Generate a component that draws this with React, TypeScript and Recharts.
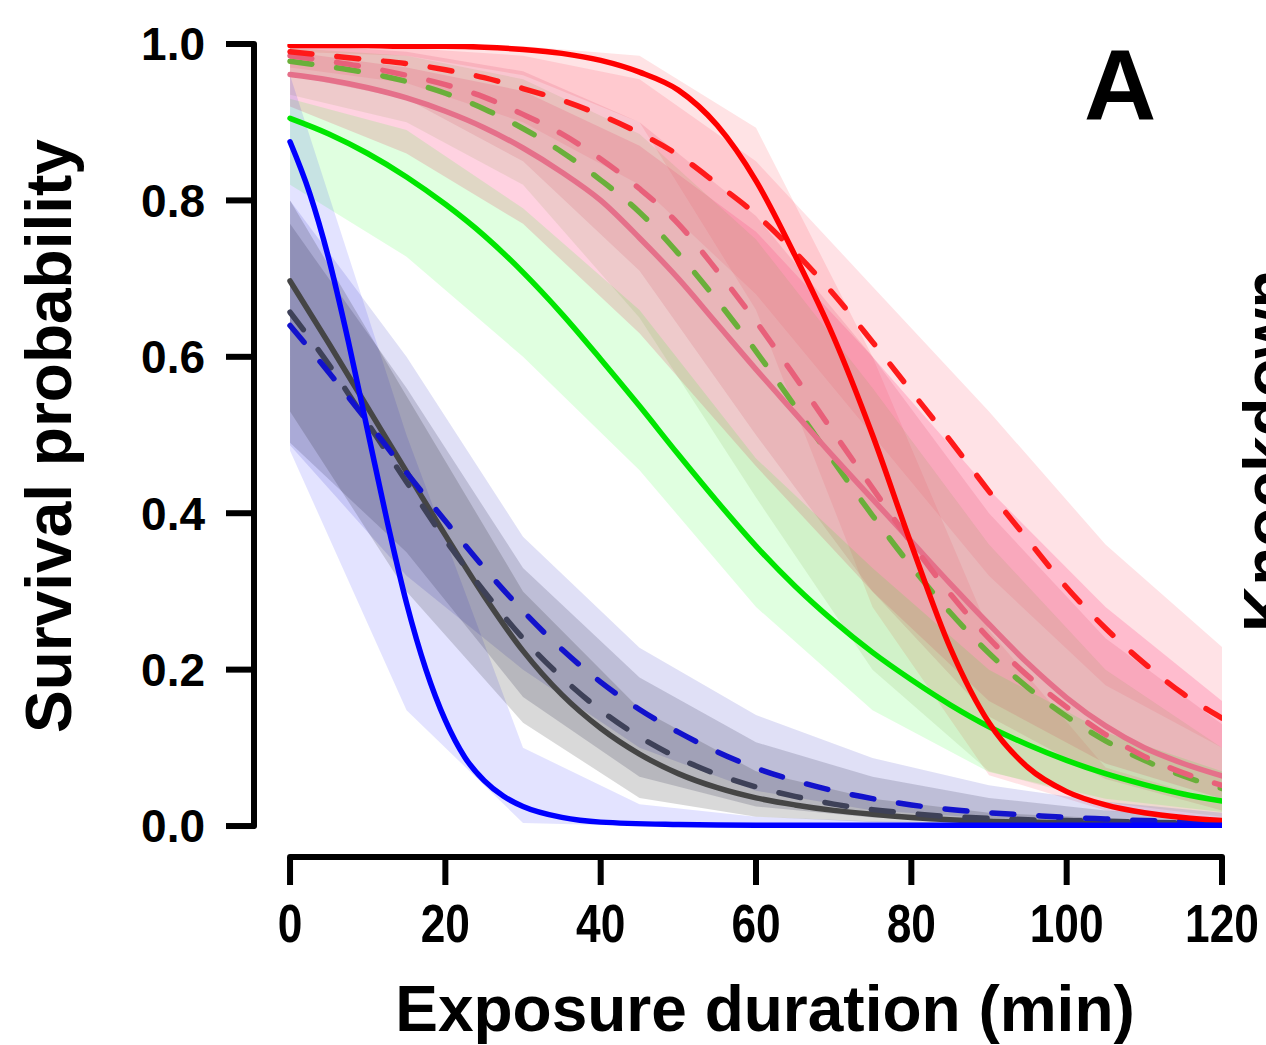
import { Area, ComposedChart, Line, ReferenceLine, XAxis, YAxis } from 'recharts'

// model curves, every 5 min
const minutes = [0, 5, 10, 15, 20, 25, 30, 35, 40, 45, 50, 55, 60, 65, 70, 75, 80, 85, 90, 95, 100, 105, 110, 115, 120]
const redSolid = [0.998, 0.998, 0.998, 0.997, 0.997, 0.996, 0.993, 0.988, 0.979, 0.964, 0.941, 0.896, 0.825, 0.73, 0.625, 0.5, 0.36, 0.228, 0.132, 0.075, 0.044, 0.027, 0.017, 0.011, 0.007]
const redDashed = [0.99, 0.985, 0.98, 0.975, 0.967, 0.957, 0.943, 0.928, 0.909, 0.886, 0.858, 0.821, 0.782, 0.734, 0.68, 0.619, 0.556, 0.493, 0.428, 0.366, 0.305, 0.253, 0.208, 0.169, 0.138]
const pinkSolid = [0.961, 0.954, 0.944, 0.931, 0.914, 0.893, 0.867, 0.836, 0.8, 0.752, 0.7, 0.642, 0.584, 0.528, 0.472, 0.418, 0.364, 0.31, 0.258, 0.208, 0.164, 0.128, 0.1, 0.08, 0.064]
const pinkDashed = [0.985, 0.978, 0.97, 0.96, 0.948, 0.932, 0.91, 0.885, 0.853, 0.815, 0.77, 0.71, 0.645, 0.575, 0.503, 0.432, 0.362, 0.297, 0.24, 0.192, 0.152, 0.117, 0.089, 0.068, 0.052]
const greenDashed = [0.978, 0.971, 0.963, 0.952, 0.937, 0.917, 0.892, 0.862, 0.826, 0.785, 0.732, 0.672, 0.607, 0.537, 0.466, 0.397, 0.332, 0.273, 0.221, 0.177, 0.14, 0.109, 0.084, 0.064, 0.048]
const greenSolid = [0.905, 0.885, 0.86, 0.83, 0.795, 0.755, 0.708, 0.655, 0.597, 0.537, 0.475, 0.415, 0.358, 0.307, 0.262, 0.222, 0.187, 0.155, 0.127, 0.104, 0.084, 0.067, 0.053, 0.041, 0.032]
const graySolid = [0.697, 0.617, 0.535, 0.453, 0.372, 0.294, 0.224, 0.168, 0.125, 0.092, 0.067, 0.049, 0.036, 0.027, 0.02, 0.015, 0.011, 0.008, 0.006, 0.005, 0.004, 0.003, 0.003, 0.002, 0.002]
const grayDashed = [0.657, 0.59, 0.515, 0.44, 0.366, 0.3, 0.24, 0.19, 0.148, 0.114, 0.087, 0.066, 0.05, 0.038, 0.028, 0.021, 0.016, 0.012, 0.01, 0.008, 0.007, 0.006, 0.005, 0.004, 0.004]
const blueDashed = [0.64, 0.58, 0.517, 0.452, 0.39, 0.33, 0.275, 0.226, 0.184, 0.149, 0.12, 0.095, 0.074, 0.058, 0.045, 0.035, 0.027, 0.021, 0.017, 0.014, 0.011, 0.009, 0.007, 0.006, 0.005]

// the steep blue curve, read on a finer grid
const blueMinutes = [0, 2.5, 5, 7.5, 10, 12.5, 15, 17.5, 20, 22.5, 25, 27.5, 30, 35, 40, 50, 60, 80, 100, 120]
const blueSolid = [0.875, 0.81, 0.725, 0.62, 0.505, 0.39, 0.285, 0.2, 0.135, 0.088, 0.058, 0.038, 0.025, 0.011, 0.005, 0.002, 0.001, 0.001, 0.001, 0.001]

// confidence bands, every 15 min
const bandMinutes = [0, 15, 30, 45, 60, 75, 90, 105, 120]
const redSolidLo = [0.99, 0.985, 0.96, 0.9, 0.66, 0.28, 0.065, 0.02, 0.004]
const redSolidHi = [1.0, 1.0, 0.997, 0.985, 0.893, 0.6, 0.25, 0.075, 0.03]
const redDashedLo = [0.97, 0.95, 0.9, 0.82, 0.68, 0.5, 0.32, 0.18, 0.1]
const redDashedHi = [1.0, 0.995, 0.985, 0.955, 0.85, 0.69, 0.53, 0.36, 0.229]
const pinkSolidLo = [0.92, 0.86, 0.77, 0.63, 0.46, 0.3, 0.16, 0.08, 0.035]
const pinkSolidHi = [0.99, 0.97, 0.94, 0.87, 0.76, 0.6, 0.43, 0.28, 0.16]
const pinkDashedLo = [0.96, 0.93, 0.85, 0.71, 0.5, 0.3, 0.14, 0.06, 0.02]
const pinkDashedHi = [1.0, 0.99, 0.965, 0.9, 0.78, 0.6, 0.4, 0.24, 0.13]
const greenDashedLo = [0.935, 0.9, 0.82, 0.65, 0.42, 0.2, 0.07, 0.03, 0.012]
const greenDashedHi = [0.995, 0.985, 0.955, 0.885, 0.75, 0.56, 0.36, 0.2, 0.1]
const greenSolidLo = [0.82, 0.728, 0.6, 0.455, 0.28, 0.148, 0.069, 0.035, 0.018]
const greenSolidHi = [0.93, 0.89, 0.79, 0.66, 0.47, 0.33, 0.2, 0.12, 0.07]
const blueSolidLo = [0.48, 0.148, 0.004, 0, 0, 0, 0, 0, 0]
const blueSolidHi = [0.96, 0.5, 0.1, 0.028, 0.012, 0.006, 0.004, 0.003, 0.003]
const blueDashedLo = [0.487, 0.32, 0.2, 0.1, 0.045, 0.02, 0.01, 0.005, 0.002]
const blueDashedHi = [0.8, 0.6, 0.37, 0.228, 0.142, 0.087, 0.052, 0.031, 0.017]
const grayDashedLo = [0.49, 0.35, 0.165, 0.063, 0.025, 0.011, 0.005, 0.003, 0.002]
const grayDashedHi = [0.77, 0.56, 0.33, 0.19, 0.107, 0.063, 0.036, 0.02, 0.01]
const graySolidLo = [0.53, 0.3, 0.132, 0.036, 0.012, 0.005, 0.002, 0.001, 0.001]
const graySolidHi = [0.8, 0.55, 0.3, 0.15, 0.07, 0.035, 0.017, 0.01, 0.005]

const xTicks = [0, 20, 40, 60, 80, 100, 120]
const yTicks = [0, 0.2, 0.4, 0.6, 0.8, 1]

const lineRows = minutes.map((t, i) => ({
  t,
  redSolid: redSolid[i],
  redDashed: redDashed[i],
  pinkSolid: pinkSolid[i],
  pinkDashed: pinkDashed[i],
  greenDashed: greenDashed[i],
  greenSolid: greenSolid[i],
  graySolid: graySolid[i],
  grayDashed: grayDashed[i],
  blueDashed: blueDashed[i],
}))

const blueRows = blueMinutes.map((t, i) => ({ t, blueSolid: blueSolid[i] }))

const bandRows = bandMinutes.map((t, i) => ({
  t,
  redSolid: [redSolidLo[i], redSolidHi[i]],
  redDashed: [redDashedLo[i], redDashedHi[i]],
  pinkSolid: [pinkSolidLo[i], pinkSolidHi[i]],
  pinkDashed: [pinkDashedLo[i], pinkDashedHi[i]],
  greenDashed: [greenDashedLo[i], greenDashedHi[i]],
  greenSolid: [greenSolidLo[i], greenSolidHi[i]],
  blueSolid: [blueSolidLo[i], blueSolidHi[i]],
  blueDashed: [blueDashedLo[i], blueDashedHi[i]],
  grayDashed: [grayDashedLo[i], grayDashedHi[i]],
  graySolid: [graySolidLo[i], graySolidHi[i]],
}))

const bands = [
  { key: 'redSolid', fill: 'rgba(255,0,20,0.11)' },
  { key: 'redDashed', fill: 'rgba(255,30,60,0.13)' },
  { key: 'pinkSolid', fill: 'rgba(255,80,140,0.26)' },
  { key: 'pinkDashed', fill: 'rgba(225,90,120,0.2)' },
  { key: 'greenDashed', fill: 'rgba(140,160,80,0.15)' },
  { key: 'greenSolid', fill: 'rgba(0,255,0,0.12)' },
  { key: 'blueSolid', fill: 'rgba(0,0,255,0.11)' },
  { key: 'blueDashed', fill: 'rgba(0,0,180,0.12)' },
  { key: 'grayDashed', fill: 'rgba(40,40,80,0.18)' },
  { key: 'graySolid', fill: 'rgba(0,0,0,0.15)' },
]

const lines = [
  { key: 'graySolid', stroke: '#454545', dashed: false },
  { key: 'grayDashed', stroke: '#3e4158', dashed: true },
  { key: 'blueDashed', stroke: '#1212cc', dashed: true },
  { key: 'greenSolid', stroke: '#00e600', dashed: false },
  { key: 'greenDashed', stroke: '#6aaf3a', dashed: true },
  { key: 'pinkSolid', stroke: '#e5708a', dashed: false },
  { key: 'pinkDashed', stroke: '#e8607a', dashed: true },
  { key: 'redDashed', stroke: '#ff1a1a', dashed: true },
  { key: 'redSolid', stroke: '#ff0000', dashed: false },
]

const FONT = '"Liberation Sans", Arial, Helvetica, sans-serif'
// R-style detached axes: gap between the data region and the axis lines
const X_GAP = 4.64
const Y_GAP = 0.0396

function XTick(props: any) {
  const { x, y, payload } = props
  return (
    <text
      x={x}
      y={y}
      dy="0.71em"
      textAnchor="middle"
      fontFamily={FONT}
      fontWeight="bold"
      fontSize={54}
      fill="#000"
      transform={`translate(${x} 0) scale(0.82 1) translate(${-x} 0)`}
    >
      {payload.value}
    </text>
  )
}

export default function App() {
  return (
    <div style={{ position: 'absolute', left: 0, top: 0, width: 1266, height: 1045, background: '#fff' }}>
      <ComposedChart
        width={1266}
        height={1045}
        data={lineRows}
        margin={{ top: 44, right: 44, bottom: 88, left: 104 }}
      >
        <XAxis
          type="number"
          dataKey="t"
          domain={[-X_GAP, 120]}
          ticks={xTicks}
          allowDataOverflow
          height={100}
          axisLine={false}
          tickLine={{ stroke: '#000', strokeWidth: 6 }}
          tickSize={28}
          tickMargin={19}
          tick={<XTick />}
          interval={0}
        />
        <YAxis
          type="number"
          domain={[-Y_GAP, 1]}
          ticks={yTicks}
          allowDataOverflow
          width={150}
          axisLine={false}
          tickLine={{ stroke: '#000', strokeWidth: 6 }}
          tickSize={28}
          tickMargin={21}
          interval={0}
          tickFormatter={(v: number) => v.toFixed(1)}
          tick={{ fontFamily: FONT, fontWeight: 'bold', fontSize: 46, fill: '#000' }}
        />
        {bands.map((b) => (
          <Area
            key={`band-${b.key}`}
            data={bandRows}
            dataKey={b.key}
            type="linear"
            stroke="none"
            fill={b.fill}
            fillOpacity={1}
            dot={false}
            activeDot={false}
            isAnimationActive={false}
          />
        ))}
        {lines.map((l) => (
          <Line
            key={`line-${l.key}`}
            dataKey={l.key}
            type="monotone"
            stroke={l.stroke}
            strokeWidth={5.5}
            strokeDasharray={l.dashed ? '22 25' : undefined}
            strokeLinecap="round"
            dot={false}
            activeDot={false}
            isAnimationActive={false}
          />
        ))}
        <Line
          data={blueRows}
          dataKey="blueSolid"
          type="monotone"
          stroke="#0000ff"
          strokeWidth={5.5}
          strokeLinecap="round"
          dot={false}
          activeDot={false}
          isAnimationActive={false}
        />
        <ReferenceLine
          segment={[{ x: 0, y: -Y_GAP }, { x: 120, y: -Y_GAP }]}
          stroke="#000"
          strokeWidth={6}
          strokeLinecap="round"
          ifOverflow="visible"
        />
        <ReferenceLine
          segment={[{ x: -X_GAP, y: 0 }, { x: -X_GAP, y: 1 }]}
          stroke="#000"
          strokeWidth={6}
          strokeLinecap="round"
          ifOverflow="visible"
        />
      </ComposedChart>
      <svg
        width={1266}
        height={1045}
        style={{ position: 'absolute', left: 0, top: 0, pointerEvents: 'none' }}
      >
        <text
          transform="translate(71 436) rotate(-90)"
          textAnchor="middle"
          fontFamily={FONT}
          fontWeight="bold"
          fontSize={64}
        >
          Survival probability
        </text>
        <text x={765} y={1031} textAnchor="middle" fontFamily={FONT} fontWeight="bold" fontSize={64}>
          Exposure duration (min)
        </text>
        <text x={1120} y={120} textAnchor="middle" fontFamily={FONT} fontWeight="bold" fontSize={100}>
          A
        </text>
        <text
          transform="translate(1289 632) rotate(-90)"
          textAnchor="start"
          fontFamily={FONT}
          fontWeight="bold"
          fontSize={64}
        >
          Knockdown
        </text>
      </svg>
    </div>
  )
}
